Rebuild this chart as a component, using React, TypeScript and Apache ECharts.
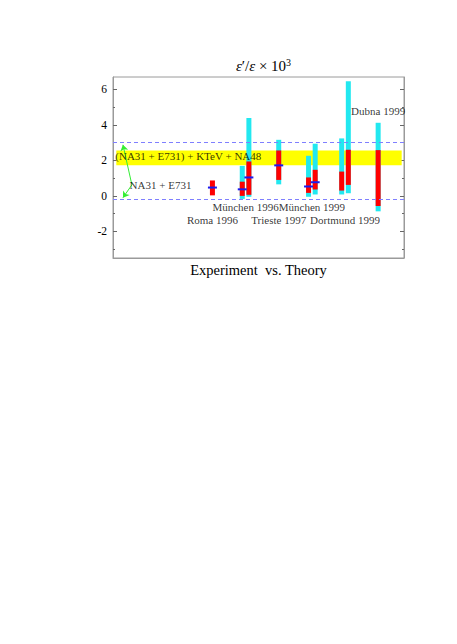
import React, { useEffect, useRef } from "react";
import * as echarts from "echarts";

// ---- data ----
const positions = [1, 1.9, 2.1, 3, 3.9, 4.1, 4.9, 5.1, 6];
const cyanLow = [null, -0.17, -0.05, 0.65, -0.05, 0.08, 0.08, 0.15, -0.87];
const cyanHigh = [null, 1.69, 4.39, 3.16, 2.26, 2.94, 3.24, 6.46, 4.12];
const redLow = [0.03, 0.0, 0.06, 0.9, 0.17, 0.36, 0.3, 0.62, -0.57];
const redHigh = [0.87, 0.8, 1.94, 2.56, 1.04, 1.47, 1.37, 2.6, 2.58];
const centralValue = [0.47, 0.37, 1.04, 1.72, 0.53, 0.77, null, null, null];

const labelTexts = ["Roma 1996", "München 1996", "Trieste 1997", "München 1999", "Dortmund 1999", "Dubna 1999"];
const labelX = [1, 2, 3, 4, 5, 6];
const labelY = [-1.36, -0.6, -1.36, -0.6, -1.36, 4.76];

const bandLow = 1.72;
const bandHigh = 2.56;
const bandXStart = -1.9;
const bandXEnd = 6.71;
const bandText = "(NA31 + E731) + KTeV + NA48";
const bandTextPos = [-1.93, 2.22];
const oldText = "NA31 + E731";
const oldTextPos = [-1.5, 0.62];
const dashedLevels = [3.0, -0.2];
const arrowStart = [-1.43, 0.62];
const arrowEnds = [[-1.7, 2.88], [-1.7, -0.1]];

const yTickLabels = [-2, 0, 2, 4, 6];
const yMinorTicks = [-3, -1, 1, 3, 5];
const yMin = -3.5;
const yMax = 6.7;
const xMin = -2;
const xMax = 6.78;

const SERIF = "'Liberation Serif', 'DejaVu Serif', serif";

function barSeries(name: string, low: (number | null)[], high: (number | null)[], color: string) {
  const data = positions
    .map((x, i) => [x, low[i], high[i]])
    .filter((d) => d[1] != null && d[2] != null);
  return {
    name,
    type: "custom",
    data,
    renderItem: (_p: any, api: any) => {
      const a = api.coord([api.value(0), api.value(2)]);
      const b = api.coord([api.value(0), api.value(1)]);
      return {
        type: "line",
        shape: { x1: a[0], y1: a[1], x2: b[0], y2: b[1] },
        style: { stroke: color, lineWidth: 5 },
      };
    },
  };
}

export default function App() {
  const ref = useRef<HTMLDivElement>(null);
  useEffect(() => {
    if (!ref.current) return;
    const chart = echarts.init(ref.current, undefined, { renderer: "svg" });
    const centralData = positions
      .map((x, i) => [x, centralValue[i]])
      .filter((d) => d[1] != null);
    const labelData = labelX.map((x, i) => ({ value: [x, labelY[i]], label: { formatter: labelTexts[i] } }));
    const frameColor = "#9a9a9a";
    const tickColor = "#666";
    const yAxisBase = (position: string, ticks: number[], len: number, showLine: boolean, showLabel: boolean) => ({
      type: "value",
      min: yMin,
      max: yMax,
      position,
      axisLine: { show: showLine, onZero: false, lineStyle: { color: frameColor } },
      axisTick: { show: true, inside: true, length: len, customValues: ticks, lineStyle: { color: tickColor } },
      axisLabel: showLabel
        ? { show: true, customValues: ticks, fontFamily: SERIF, fontSize: 11.5, color: "#000", margin: 6 }
        : { show: false },
      splitLine: { show: false },
    });
    const option: any = {
      animation: false,
      backgroundColor: "#ffffff",
      title: {
        text: "{i|ε}′/{i|ε} × 10{sup|3}",
        left: 258.5,
        textAlign: "center",
        top: 52,
        textStyle: {
          fontFamily: SERIF,
          fontSize: 15,
          fontWeight: "normal",
          color: "#000",
          rich: {
            i: { fontFamily: SERIF, fontSize: 15, fontStyle: "italic", color: "#000" },
            sup: { fontFamily: SERIF, fontSize: 10, color: "#000", verticalAlign: "top", padding: [0, 0, 7, 0] },
          },
        },
      },
      grid: {
        left: 113,
        right: 53,
        top: 77,
        bottom: 386,
        show: true,
        borderColor: frameColor,
        borderWidth: 1,
      },
      xAxis: {
        type: "value",
        min: xMin,
        max: xMax,
        axisLine: { show: true, onZero: false, lineStyle: { color: frameColor } },
        axisTick: { show: false },
        axisLabel: { show: false },
        splitLine: { show: false },
        name: "Experiment  vs. Theory",
        nameLocation: "middle",
        nameGap: 4,
        nameTextStyle: { fontFamily: SERIF, fontSize: 14.5, color: "#000", verticalAlign: "top" },
      },
      yAxis: [
        yAxisBase("left", yTickLabels, 4, true, true),
        yAxisBase("left", yMinorTicks, 2, false, false),
        yAxisBase("right", yTickLabels, 4, true, false),
        yAxisBase("right", yMinorTicks, 2, false, false),
      ],
      series: [
        {
          name: "band",
          type: "scatter",
          data: [],
          markArea: {
            silent: true,
            itemStyle: { color: "#ffff00", opacity: 1 },
            data: [[{ coord: [bandXStart, bandLow] }, { coord: [bandXEnd, bandHigh] }]],
          },
          markLine: {
            silent: true,
            symbol: ["none", "none"],
            label: { show: false },
            lineStyle: { color: "#7f7fff", type: [4, 3], width: 1 },
            data: dashedLevels.map((v) => ({ yAxis: v })),
          },
        },
        barSeries("theory-range", cyanLow, cyanHigh, "#22e8f0"),
        barSeries("theory-core", redLow, redHigh, "#ff0000"),
        {
          name: "central",
          type: "custom",
          data: centralData,
          renderItem: (_p: any, api: any) => {
            const c = api.coord([api.value(0), api.value(1)]);
            return {
              type: "line",
              shape: { x1: c[0] - 4.5, y1: c[1], x2: c[0] + 4.5, y2: c[1] },
              style: { stroke: "#1a1aee", lineWidth: 2 },
            };
          },
        },
        {
          name: "arrows",
          type: "lines",
          coordinateSystem: "cartesian2d",
          symbol: ["none", "arrow"],
          symbolSize: 6,
          lineStyle: { color: "#33ee33", width: 1, opacity: 1 },
          data: arrowEnds.map((e) => ({ coords: [arrowStart, e] })),
        },
        {
          name: "labels",
          type: "scatter",
          symbolSize: 0,
          data: labelData,
          label: {
            show: true,
            position: "inside",
            fontFamily: SERIF,
            fontSize: 11,
            color: "#000",
          },
        },
        {
          name: "annotations",
          type: "scatter",
          symbolSize: 0,
          data: [
            { value: bandTextPos, label: { formatter: bandText } },
            { value: oldTextPos, label: { formatter: oldText } },
          ],
          label: {
            show: true,
            position: [0, 0],
            align: "left",
            verticalAlign: "middle",
            fontFamily: SERIF,
            fontSize: 11,
            color: "#000",
          },
        },
      ],
    };
    chart.setOption(option);
    return () => chart.dispose();
  }, []);
  return (
    <div
      ref={ref}
      style={{ position: "fixed", left: 0, top: 0, width: 457, height: 644, background: "#fff" }}
    />
  );
}
